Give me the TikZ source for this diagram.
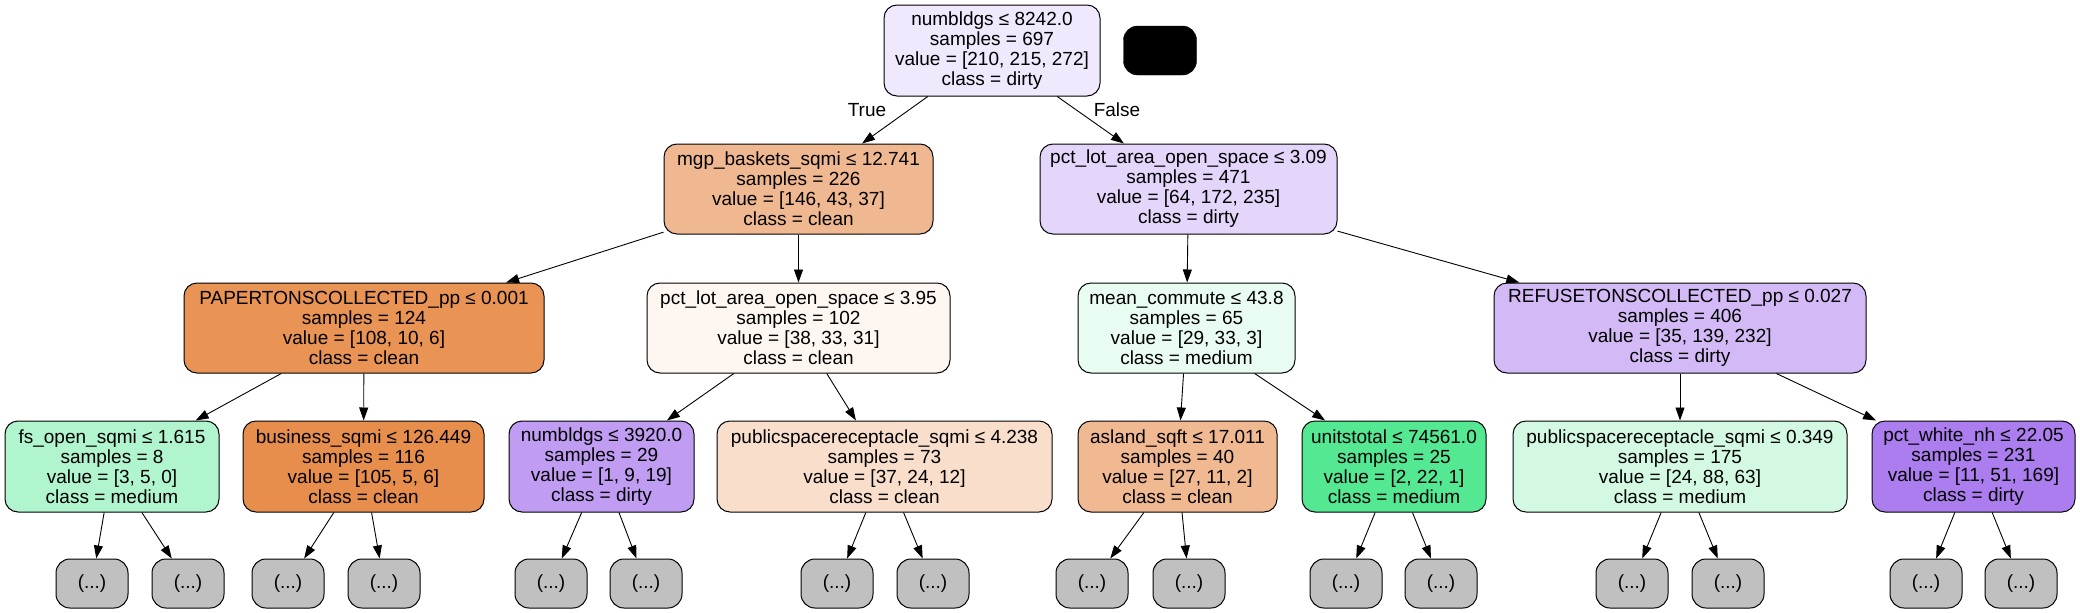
\documentclass[tikz,border=0pt]{standalone}
\usepackage{fontspec}
\setmainfont{Liberation Sans}
\usetikzlibrary{arrows.meta}

\definecolor{cd0}{RGB}{240,232,252}
\definecolor{cd1v1}{RGB}{240,184,144}
\definecolor{cd1v2}{RGB}{228,213,250}
\definecolor{cd2v1}{RGB}{233,147,85}
\definecolor{cd2v2}{RGB}{253,246,241}
\definecolor{cd2v3}{RGB}{233,252,241}
\definecolor{cd2v4}{RGB}{211,186,246}
\definecolor{cd3v1}{RGB}{176,245,205}
\definecolor{cd3v2}{RGB}{232,142,77}
\definecolor{cd3v3}{RGB}{192,156,242}
\definecolor{cd3v4}{RGB}{248,222,203}
\definecolor{cd3v5}{RGB}{241,185,146}
\definecolor{cd3v6}{RGB}{83,232,145}
\definecolor{cd3v7}{RGB}{211,249,227}
\definecolor{cd3v8}{RGB}{172,125,238}
\definecolor{leafgray}{RGB}{192,192,192}

\begin{document}
\begin{tikzpicture}[x=1pt,y=-1pt,
  treebox/.style={draw,line width=1pt,rounded corners=13pt,align=center,
    inner sep=0pt,minimum height=90pt,font=\fontsize{19}{20}\selectfont},
  leafbox/.style={draw,line width=1pt,rounded corners=14pt,fill=leafgray,
    inner sep=0pt,minimum width=72pt,minimum height=49pt,font=\fontsize{19}{20}\selectfont},
  treearrow/.style={-{Triangle[length=13pt,width=9pt]},line width=0.9pt}]
  \useasboundingbox (0,0) rectangle (2080,613);

  \node[treebox,fill=cd0,minimum width=216pt,minimum height=91pt] (d0) at (992,50.5)
    {numbldgs ≤ 8242.0\\samples = 697\\value = [210, 215, 272]\\class = dirty};
  \node[draw,fill=black,rounded corners=14pt,minimum width=73pt,minimum height=49pt] (blk) at (1160,50.5) {};

  \node[treebox,fill=cd1v1,minimum width=269pt] (d1v1) at (798.5,189)
    {mgp\_baskets\_sqmi ≤ 12.741\\samples = 226\\value = [146, 43, 37]\\class = clean};
  \node[treebox,fill=cd1v2,minimum width=297pt] (d1v2) at (1188.5,189)
    {pct\_lot\_area\_open\_space ≤ 3.09\\samples = 471\\value = [64, 172, 235]\\class = dirty};
  \draw[treearrow] (d0) -- (d1v1);
  \draw[treearrow] (d0) -- (d1v2);
  \node (ltrue) at (867,110) {\fontsize{19}{20}\selectfont True};
  \node (lfalse) at (1117,110) {\fontsize{19}{20}\selectfont False};

  \node[treebox,fill=cd2v1,minimum width=360pt] (d2v1) at (364,328)
    {PAPERTONSCOLLECTED\_pp ≤ 0.001\\samples = 124\\value = [108, 10, 6]\\class = clean};
  \node[treebox,fill=cd2v2,minimum width=303pt] (d2v2) at (798.5,328)
    {pct\_lot\_area\_open\_space ≤ 3.95\\samples = 102\\value = [38, 33, 31]\\class = clean};
  \node[treebox,fill=cd2v3,minimum width=217pt] (d2v3) at (1186.5,328)
    {mean\_commute ≤ 43.8\\samples = 65\\value = [29, 33, 3]\\class = medium};
  \node[treebox,fill=cd2v4,minimum width=372pt] (d2v4) at (1680,328)
    {REFUSETONSCOLLECTED\_pp ≤ 0.027\\samples = 406\\value = [35, 139, 232]\\class = dirty};
  \foreach \to in {d2v1,d2v2}
    \draw[treearrow] (d1v1) -- (\to);
  \foreach \to in {d2v3,d2v4}
    \draw[treearrow] (d1v2) -- (\to);

  \node[treebox,fill=cd3v1,minimum width=214pt,minimum height=91pt] (d3v1) at (112,466.5)
    {fs\_open\_sqmi ≤ 1.615\\samples = 8\\value = [3, 5, 0]\\class = medium};
  \node[treebox,fill=cd3v2,minimum width=241pt,minimum height=91pt] (d3v2) at (363.5,466.5)
    {business\_sqmi ≤ 126.449\\samples = 116\\value = [105, 5, 6]\\class = clean};
  \node[treebox,fill=cd3v3,minimum width=185pt,minimum height=91pt] (d3v3) at (601.5,466.5)
    {numbldgs ≤ 3920.0\\samples = 29\\value = [1, 9, 19]\\class = dirty};
  \node[treebox,fill=cd3v4,minimum width=335pt,minimum height=91pt] (d3v4) at (884.5,466.5)
    {publicspacereceptacle\_sqmi ≤ 4.238\\samples = 73\\value = [37, 24, 12]\\class = clean};
  \node[treebox,fill=cd3v5,minimum width=199pt,minimum height=91pt] (d3v5) at (1177.5,466.5)
    {asland\_sqft ≤ 17.011\\samples = 40\\value = [27, 11, 2]\\class = clean};
  \node[treebox,fill=cd3v6,minimum width=184pt,minimum height=91pt] (d3v6) at (1394,466.5)
    {unitstotal ≤ 74561.0\\samples = 25\\value = [2, 22, 1]\\class = medium};
  \node[treebox,fill=cd3v7,minimum width=334pt,minimum height=91pt] (d3v7) at (1680,466.5)
    {publicspacereceptacle\_sqmi ≤ 0.349\\samples = 175\\value = [24, 88, 63]\\class = medium};
  \node[treebox,fill=cd3v8,minimum width=203pt,minimum height=91pt] (d3v8) at (1973.5,466.5)
    {pct\_white\_nh ≤ 22.05\\samples = 231\\value = [11, 51, 169]\\class = dirty};
  \draw[treearrow] (d2v1) -- (d3v1);
  \draw[treearrow] (d2v1) -- (d3v2);
  \draw[treearrow] (d2v2) -- (d3v3);
  \draw[treearrow] (d2v2) -- (d3v4);
  \draw[treearrow] (d2v3) -- (d3v5);
  \draw[treearrow] (d2v3) -- (d3v6);
  \draw[treearrow] (d2v4) -- (d3v7);
  \draw[treearrow] (d2v4) -- (d3v8);

  % leaves, two under each node of the third row
  \foreach \i/\xa/\xb in {1/92/188, 2/288/384, 3/551/646, 4/837/933,
                          5/1092/1189, 6/1346/1441, 7/1632/1728, 8/1926/2021} {
    \node[leafbox] (d4v\i a) at (\xa,583.5) {(...)};
    \node[leafbox] (d4v\i b) at (\xb,583.5) {(...)};
    \draw[treearrow] (d3v\i) -- (d4v\i a);
    \draw[treearrow] (d3v\i) -- (d4v\i b);
  }

\end{tikzpicture}
\end{document}
